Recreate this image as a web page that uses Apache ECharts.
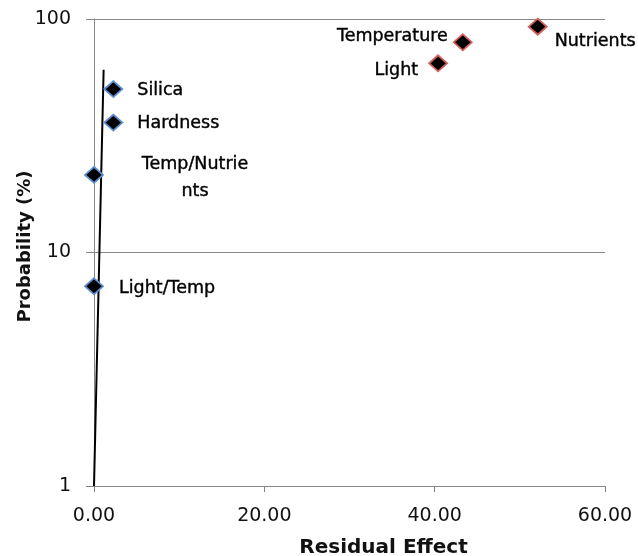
<!DOCTYPE html>
<html>
<head>
<meta charset="utf-8">
<script src="https://cdn.jsdelivr.net/npm/echarts@6/dist/echarts.min.js"></script>
<style>html,body{margin:0;padding:0;background:#fff;}#c{width:638px;height:556px;}</style>
</head>
<body>
<div id="c"></div>
<script>
// Single-factor points (blue outline)
const singleNames = ['Silica', 'Hardness', 'Temp/Nutrients', 'Light/Temp'];
const singleX = [2.27, 2.27, 0.0, 0.0];
const singleY = [50.1, 36.0, 21.5, 7.17];
// Main-factor points (red outline)
const mainNames = ['Temperature', 'Light', 'Nutrients'];
const mainX = [43.3, 40.4, 52.1];
const mainY = [79.5, 64.6, 92.7];
// Trend line end points
const trendX = [0.0, 1.13];
const trendY = [1, 60.6];
// Axis ticks
const xTicks = [0, 20, 40, 60];
const yTicks = [1, 10, 100];

const FONT = '"DejaVu Sans"';
const labelStyle = {
  'Silica': {position: 'right', distance: 14, offset: [0, 1]},
  'Hardness': {position: 'right', distance: 14, offset: [0, 1]},
  'Temp/Nutrients': {position: 'inside', offset: [101, 3], align: 'center', lineHeight: 27,
    formatter: p => p.name.slice(0, 11) + '\n' + p.name.slice(11)},
  'Light/Temp': {position: 'right', distance: 15, offset: [0, 2]},
  'Temperature': {position: 'left', distance: 5, offset: [0, -5.5]},
  'Light': {position: 'left', distance: 10, offset: [0, 7.5]},
  'Nutrients': {position: 'right', distance: 7, offset: [0, 15]}
};

function build(names, xs, ys) {
  return names.map((n, i) => ({
    name: n,
    value: [xs[i], ys[i]],
    label: Object.assign({show: true}, labelStyle[n])
  }));
}

const labelText = {color: '#000', fontFamily: FONT, fontSize: 17.5, formatter: '{b}',
  textBorderColor: '#000', textBorderWidth: 0.4};

const chart = echarts.init(document.getElementById('c'));
chart.setOption({
  animation: false,
  backgroundColor: '#fff',
  textStyle: {fontFamily: FONT},
  grid: {left: 94, right: 33, top: 19, bottom: 70, outerBoundsMode: 'none', containLabel: false},
  xAxis: {
    type: 'value', min: xTicks[0], max: xTicks[xTicks.length - 1], interval: 20,
    name: 'Residual Effect', nameLocation: 'middle', nameGap: 52, nameMoveOverlap: false,
    nameTextStyle: {fontFamily: FONT, fontWeight: 'bold', fontSize: 20, color: '#111', padding: [0, 0, 0, 68]},
    axisLine: {show: true, lineStyle: {color: '#868686', width: 1}},
    axisTick: {show: true, length: 6, lineStyle: {color: '#868686'}},
    axisLabel: {fontFamily: FONT, fontSize: 19, color: '#111', margin: 21,
      formatter: v => v.toFixed(2)},
    splitLine: {show: false}
  },
  yAxis: {
    type: 'log', logBase: 10, min: yTicks[0], max: yTicks[yTicks.length - 1],
    name: 'Probability (%)', nameLocation: 'middle', nameGap: 60, nameMoveOverlap: false,
    nameTextStyle: {fontFamily: FONT, fontWeight: 'bold', fontSize: 18, color: '#111', padding: [0, 0, 0, 12]},
    axisLine: {show: true, lineStyle: {color: '#868686', width: 1}},
    axisTick: {show: true, length: 8, lineStyle: {color: '#868686'}},
    axisLabel: {fontFamily: FONT, fontSize: 19, color: '#111', margin: 23,
      formatter: v => String(Math.round(v))},
    splitLine: {show: true, lineStyle: {color: '#868686', width: 1}}
  },
  series: [
    {
      type: 'line',
      data: trendX.map((x, i) => [x, trendY[i]]),
      symbol: 'none',
      lineStyle: {color: '#000', width: 2},
      z: 3
    },
    {
      type: 'scatter',
      data: build(singleNames, singleX, singleY),
      symbol: 'diamond', symbolSize: [18, 16],
      itemStyle: {color: '#000', borderColor: '#5b8fd3', borderWidth: 1.8, opacity: 1},
      label: labelText,
      z: 4
    },
    {
      type: 'scatter',
      data: build(mainNames, mainX, mainY),
      symbol: 'diamond', symbolSize: [18, 16],
      itemStyle: {color: '#000', borderColor: '#d45f5c', borderWidth: 1.8, opacity: 1},
      label: labelText,
      z: 4
    }
  ]
});
</script>
</body>
</html>
